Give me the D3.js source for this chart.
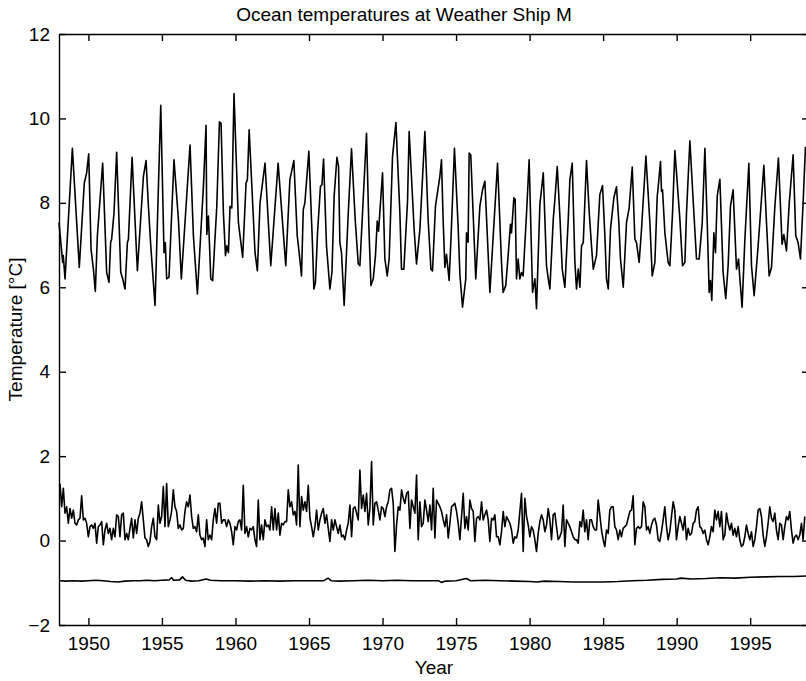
<!DOCTYPE html>
<html>
<head>
<meta charset="utf-8">
<script src="https://cdn.jsdelivr.net/npm/d3@7"></script>
<style>
  body { margin: 0; background: #fff; }
  svg { display: block; font-family: "Liberation Sans", Arial, sans-serif; }
  .axis path, .axis line { stroke: #000; stroke-width: 1.4; }
  .axis text { font-size: 19px; fill: #000; }
</style>
</head>
<body>
<div id="chart"></div>
<script>
/* DATA */

// upper curve: seasonal temperature, [year, degC] read at peaks / troughs / shoulders
const seasonYears = [
  1948.00,1948.25,1948.29,1948.41,1948.91,1949.38,1949.72,1949.88,1950.02,1950.18,
  1950.34,1950.47,1950.61,1950.79,1950.97,1951.24,1951.40,1951.51,1951.58,1951.74,
  1951.92,1952.20,1952.33,1952.49,1952.65,1952.72,1952.97,1953.33,1953.74,1953.92,
  1954.08,1954.24,1954.53,1954.92,1955.14,1955.23,1955.32,1955.48,1955.82,1956.12,
  1956.32,1956.91,1957.14,1957.41,1957.82,1958.00,1958.05,1958.16,1958.32,1958.45,
  1958.73,1958.91,1959.02,1959.18,1959.32,1959.41,1959.52,1959.63,1959.75,1959.90,
  1960.20,1960.49,1960.72,1960.81,1960.93,1961.33,1961.49,1961.67,1962.01,1962.40,
  1962.90,1963.42,
  1963.70,1963.97,1964.20,1964.33,1964.49,1964.61,1964.72,1964.99,1965.24,1965.33,
  1965.44,1965.58,1965.78,1965.88,1965.99,1966.19,1966.42,1966.56,1966.71,1966.90,
  1967.01,1967.10,1967.21,1967.39,1967.67,1967.89,1968.14,1968.35,1968.46,1968.64,
  1968.91,1969.07,1969.21,1969.37,1969.52,1969.64,1969.73,1970.00,1970.16,1970.32,
  1970.45,1970.68,1970.91,1971.18,1971.29,1971.45,1971.70,1971.81,1972.15,1972.31,
  1972.54,1972.88,1973.10,1973.29,1973.40,1973.60,1973.90,1974.01,1974.12,1974.24,
  1974.35,1974.53,1974.69,1974.89,1975.14,1975.26,1975.44,1975.66,1975.71,1975.82,
  1975.89,1976.00,1976.16,1976.34,1976.62,1976.80,1976.96,1977.30,1977.82,1978.09,
  1978.20,1978.38,1978.54,1978.70,1978.77,1978.93,1979.02,1979.11,1979.22,1979.34,
  1979.45,1979.56,1979.79,1979.97,1980.20,1980.36,1980.47,
  1980.70,1980.93,1981.15,1981.27,1981.38,1981.61,1981.72,1981.88,1982.06,1982.22,
  1982.40,1982.63,1982.74,1982.90,1983.08,1983.19,1983.31,1983.42,1983.53,1983.65,
  1983.87,1984.05,1984.21,1984.33,1984.55,1984.67,1984.78,1984.96,1985.12,1985.23,
  1985.35,1985.50,1985.73,1985.91,1986.07,1986.18,1986.37,1986.59,1986.77,1986.98,
  1987.16,1987.27,1987.45,1987.61,1987.91,1988.18,1988.34,1988.52,1988.68,1988.74,
  1988.90,1988.97,1989.04,1989.20,1989.42,1989.54,1989.72,1989.88,1990.22,1990.40,
  1990.56,1990.67,1990.90,1991.12,1991.35,1991.53,1991.74,1991.92,1992.08,1992.21,
  1992.30,1992.39,1992.53,1992.64,1992.76,1992.94,1993.16,1993.34,1993.50,1993.66,
  1993.84,1994.07,1994.21,1994.30,1994.45,1994.64,1994.91,1995.09,1995.27,1995.54,
  1995.70,1995.93,1996.11,1996.29,1996.45,1996.68,1996.92,1997.17,1997.29,1997.47,
  1997.65,1997.92,1998.10,1998.26,1998.42,1998.60,1998.76
];
const seasonTemps = [
  7.53,6.59,6.75,6.20,9.29,6.47,8.47,8.71,9.16,6.90,
  6.43,5.90,7.22,8.08,8.94,6.35,6.12,7.06,7.14,7.76,
  9.20,6.35,6.20,5.96,7.06,7.14,9.08,6.39,8.63,9.00,
  7.92,6.98,5.57,10.31,6.82,7.06,6.20,6.24,9.02,7.61,
  6.20,9.37,7.22,5.84,8.39,9.84,7.25,7.69,6.20,6.16,
  7.92,9.92,9.88,7.76,6.75,6.98,6.82,7.92,7.88,10.59,
  7.53,6.71,8.47,8.55,9.73,6.82,6.39,8.00,8.94,6.51,
  8.94,6.51,
  8.55,9.00,7.22,6.82,6.27,7.84,8.00,9.22,6.98,5.96,
  6.12,7.29,8.39,8.43,9.04,6.98,5.96,6.35,8.16,9.08,
  8.86,7.06,6.82,5.57,7.76,9.28,7.61,6.55,6.51,7.76,
  9.65,7.45,6.04,6.20,6.75,7.57,7.33,8.71,6.67,6.27,
  6.67,9.10,9.90,7.76,6.43,6.43,8.04,9.69,7.37,6.55,
  7.37,9.69,7.61,6.43,6.39,7.92,8.63,9.02,7.61,6.47,
  6.78,6.16,7.45,9.29,7.45,6.31,5.53,6.20,7.29,7.07,
  9.18,9.14,7.76,6.20,7.92,8.31,8.51,5.88,8.94,6.59,
  5.88,6.04,6.75,7.49,7.29,8.12,8.08,6.20,6.67,6.20,
  6.35,6.27,7.73,9.02,5.88,6.20,5.49,
  7.96,8.71,6.51,6.20,5.96,7.61,8.08,8.86,7.69,6.43,
  6.00,7.61,8.55,8.94,6.59,5.96,6.43,6.00,6.98,7.06,
  9.00,7.80,6.98,6.43,6.75,7.53,8.20,8.41,7.22,6.20,
  5.96,7.37,8.12,8.38,7.53,6.67,6.00,7.53,7.88,8.85,
  7.14,7.06,6.59,7.37,9.11,7.53,6.27,6.59,8.16,8.35,
  8.98,8.27,8.31,7.29,6.59,6.51,7.76,9.24,7.61,6.51,
  6.59,7.76,9.47,8.08,6.67,6.67,7.53,9.29,7.53,5.88,
  6.16,5.69,7.29,6.82,8.16,8.56,6.35,5.73,6.51,7.92,
  8.31,6.43,6.67,6.20,5.53,7.14,8.94,6.51,5.80,6.98,
  7.76,8.89,7.53,6.27,6.47,7.92,9.06,7.02,7.25,6.86,
  7.96,9.14,7.22,7.06,6.67,8.00,9.33
];

// middle curve: anomaly, read at an even step along the time axis
const anomalyStart = 1948.068;
const anomalyStep = 0.1133;
const anomaly = [
  1.35,0.80,1.24,0.65,0.80,0.41,0.76,0.53,0.72,0.41,
  0.37,0.49,0.53,1.06,0.49,0.53,0.41,0.09,0.33,0.37,
  0.29,0.41,-0.06,0.33,0.37,0.45,-0.10,0.25,0.41,0.17,
  0.29,0.02,0.29,0.09,0.61,0.57,0.09,0.61,0.65,0.02,
  0.17,0.02,0.29,0.53,0.06,0.49,0.17,0.53,0.65,0.92,
  0.49,0.06,0.02,-0.14,-0.02,0.33,0.53,0.09,0.02,0.84,
  0.41,0.57,1.28,0.33,1.35,0.33,0.49,0.69,1.20,0.80,
  0.69,0.29,0.37,0.25,0.29,0.69,0.92,0.80,1.08,0.57,
  0.29,0.33,0.21,0.61,0.13,0.02,0.06,-0.14,0.49,0.02,
  0.13,0.02,0.49,0.76,0.41,0.88,0.88,0.41,0.49,0.49,
  0.33,0.49,0.41,0.21,-0.10,0.33,0.25,0.45,0.49,0.25,
  1.31,0.17,0.33,0.09,
  0.29,0.25,0.33,0.02,-0.14,0.96,0.02,0.37,0.02,0.49,
  0.33,0.37,0.25,0.80,0.25,0.76,0.25,0.65,0.13,0.41,
  0.37,0.45,0.45,1.20,0.80,0.92,0.61,0.69,0.37,1.79,
  0.33,1.04,0.72,0.92,0.69,1.31,0.53,0.33,0.09,0.33,
  0.72,0.25,0.49,0.65,0.76,0.41,0.61,0.29,-0.02,0.49,
  0.25,0.49,0.33,0.17,0.37,0.09,0.13,0.02,0.25,0.41,
  0.84,0.09,0.76,0.80,0.65,0.49,1.67,0.76,1.08,0.69,
  1.12,0.37,0.76,1.87,0.37,0.88,0.92,0.72,0.49,0.80,
  0.76,0.57,0.80,0.92,1.20,1.24,0.88,-0.26,0.37,0.80,
  0.72,1.20,1.00,0.88,1.12,1.16,0.29,0.96,0.80,0.65,
  1.55,0.02,0.92,0.33,0.41,0.96,0.72,0.45,0.84,0.25,
  1.24,0.06,0.96,0.88,
  0.80,0.69,0.49,0.33,0.61,0.06,0.41,0.80,0.84,0.88,
  0.69,0.41,0.02,0.57,1.12,0.29,0.57,0.25,0.96,0.76,
  0.69,-0.02,0.53,0.57,0.49,0.92,0.49,0.61,0.72,0.49,
  -0.02,0.53,0.49,0.61,0.09,0.09,-0.10,0.21,0.69,0.33,
  0.57,0.49,0.41,0.25,-0.06,0.09,0.06,0.25,0.69,1.12,
  -0.26,1.00,0.57,0.37,0.09,0.33,0.25,0.02,-0.26,0.17,
  0.45,0.61,0.49,0.21,0.37,0.76,0.49,0.02,0.61,0.65,
  0.33,0.02,0.09,0.21,0.84,-0.14,0.49,0.41,0.33,0.21,
  0.09,0.02,0.02,-0.06,0.45,0.33,0.72,0.21,0.49,0.02,
  0.49,0.49,0.33,0.25,0.25,0.96,0.61,0.25,0.02,-0.14,
  0.25,0.17,0.72,0.80,0.80,0.33,0.25,0.02,0.25,0.09,
  0.29,0.33,0.37,0.53,
  0.69,0.72,1.06,-0.10,0.29,0.33,0.29,0.33,0.92,0.80,
  0.25,0.33,0.17,0.37,0.49,0.53,0.37,0.02,-0.02,0.21,
  0.49,0.80,0.33,0.02,0.21,0.57,0.92,0.72,0.02,0.33,
  0.57,0.41,0.25,0.57,0.02,0.29,0.13,0.17,0.41,0.45,
  0.72,0.80,0.33,0.29,0.17,0.25,0.02,-0.10,0.09,0.33,
  0.21,0.72,0.49,0.69,0.33,0.69,0.02,0.13,0.65,0.41,
  0.25,0.41,0.13,0.29,0.09,0.33,0.02,-0.14,-0.10,0.09,
  0.37,0.17,0.02,0.21,-0.14,0.02,0.33,0.72,0.76,0.57,
  0.13,-0.14,0.09,0.41,0.80,0.53,0.45,0.65,0.25,0.02,
  0.41,0.37,0.02,0.33,0.57,0.49,0.69,0.25,-0.06,0.09,
  0.13,0.02,0.13,0.41,0.02,0.57
];

// bottom curve: nearly flat deep series
const deepYears = [
  1948.0,1948.5,1949.0,1949.5,1950.0,1950.5,1951.0,1951.5,1952.0,1952.5,
  1953.0,1953.5,1954.0,1954.5,1955.0,1955.5,1955.66,1955.8,1956.2,1956.4,
  1956.6,1957.0,1957.5,1958.0,1958.3,1959,1960,1961,1962,1963,
  1964,1965,1966,1966.3,1966.5,1967,1968,1969,1970,1971,
  1972,1973,1973.8,1974.0,1974.3,1975,1975.7,1976,1977,1978,
  1979,1980,1980.5,1981,1982,1983,1984,1985,1986,1987,
  1988,1989,1990,1990.3,1991,1992,1993,1994,1995,1996,
  1997,1998,1998.8
];
const deepTemps = [
  -0.95,-0.96,-0.95,-0.96,-0.95,-0.94,-0.95,-0.97,-0.98,-0.96,
  -0.95,-0.95,-0.94,-0.95,-0.94,-0.93,-0.88,-0.94,-0.93,-0.86,
  -0.94,-0.96,-0.95,-0.91,-0.94,-0.95,-0.95,-0.96,-0.95,-0.96,
  -0.95,-0.95,-0.95,-0.89,-0.95,-0.96,-0.95,-0.94,-0.95,-0.94,
  -0.95,-0.95,-0.95,-0.99,-0.96,-0.95,-0.90,-0.95,-0.94,-0.95,
  -0.96,-0.97,-0.98,-0.96,-0.97,-0.98,-0.98,-0.98,-0.97,-0.95,
  -0.94,-0.92,-0.91,-0.89,-0.91,-0.90,-0.88,-0.89,-0.87,-0.86,
  -0.85,-0.85,-0.84
];

const yearTicks = [1950, 1955, 1960, 1965, 1970, 1975, 1980, 1985, 1990, 1995];
const tempTicks = [-2, 0, 2, 4, 6, 8, 10, 12];

/* LAYOUT */
const W = 806, H = 681;
const plot = { left: 59, right: 809, top: 34, bottom: 625 };
const tick = 7;

const x = d3.scaleLinear().domain([1948, 1999]).range([plot.left, plot.right]);
const y = d3.scaleLinear().domain([-2, 12]).range([plot.bottom, plot.top]);

const svg = d3.select("#chart").append("svg")
  .attr("width", W)
  .attr("height", H);

// series
const line = d3.line().x(d => x(d[0])).y(d => y(d[1]));

const season = seasonYears.map((t, i) => [t, seasonTemps[i]]);
const anom = anomaly.map((v, i) => [anomalyStart + i * anomalyStep, v]);
const deep = deepYears.map((t, i) => [t, deepTemps[i]]);

svg.selectAll("path.series")
  .data([season, anom, deep])
  .join("path")
  .attr("class", "series")
  .attr("d", line)
  .attr("fill", "none")
  .attr("stroke", "#000")
  .attr("stroke-width", 1.6)
  .attr("stroke-linejoin", "round");

// axes, ticks inward on all four sides
svg.append("g")
  .attr("class", "axis")
  .attr("transform", `translate(0,${plot.bottom})`)
  .call(d3.axisBottom(x).tickValues(yearTicks).tickFormat(d3.format("d"))
    .tickSizeInner(-tick).tickSizeOuter(0).tickPadding(11.5));

svg.append("g")
  .attr("class", "axis")
  .attr("transform", `translate(0,${plot.top})`)
  .call(d3.axisTop(x).tickValues(yearTicks).tickFormat("")
    .tickSizeInner(-tick).tickSizeOuter(0));

svg.append("g")
  .attr("class", "axis")
  .attr("transform", `translate(${plot.left},0)`)
  .call(d3.axisLeft(y).tickValues(tempTicks)
    .tickSizeInner(-tick).tickSizeOuter(0).tickPadding(9));

svg.append("g")
  .attr("class", "axis")
  .attr("transform", `translate(${plot.right},0)`)
  .call(d3.axisRight(y).tickValues(tempTicks).tickFormat("")
    .tickSizeInner(-tick).tickSizeOuter(0));

svg.selectAll(".axis").attr("font-family", null).attr("font-size", null);

// labels
svg.append("text")
  .attr("x", 404)
  .attr("y", 21)
  .attr("text-anchor", "middle")
  .attr("font-size", 19)
  .text("Ocean temperatures at Weather Ship M");

svg.append("text")
  .attr("x", (plot.left + plot.right) / 2)
  .attr("y", 674)
  .attr("text-anchor", "middle")
  .attr("font-size", 19)
  .text("Year");

svg.append("text")
  .attr("transform", `translate(22,${(plot.top + plot.bottom) / 2}) rotate(-90)`)
  .attr("text-anchor", "middle")
  .attr("font-size", 19)
  .text("Temperature [°C]");
</script>
</body>
</html>
